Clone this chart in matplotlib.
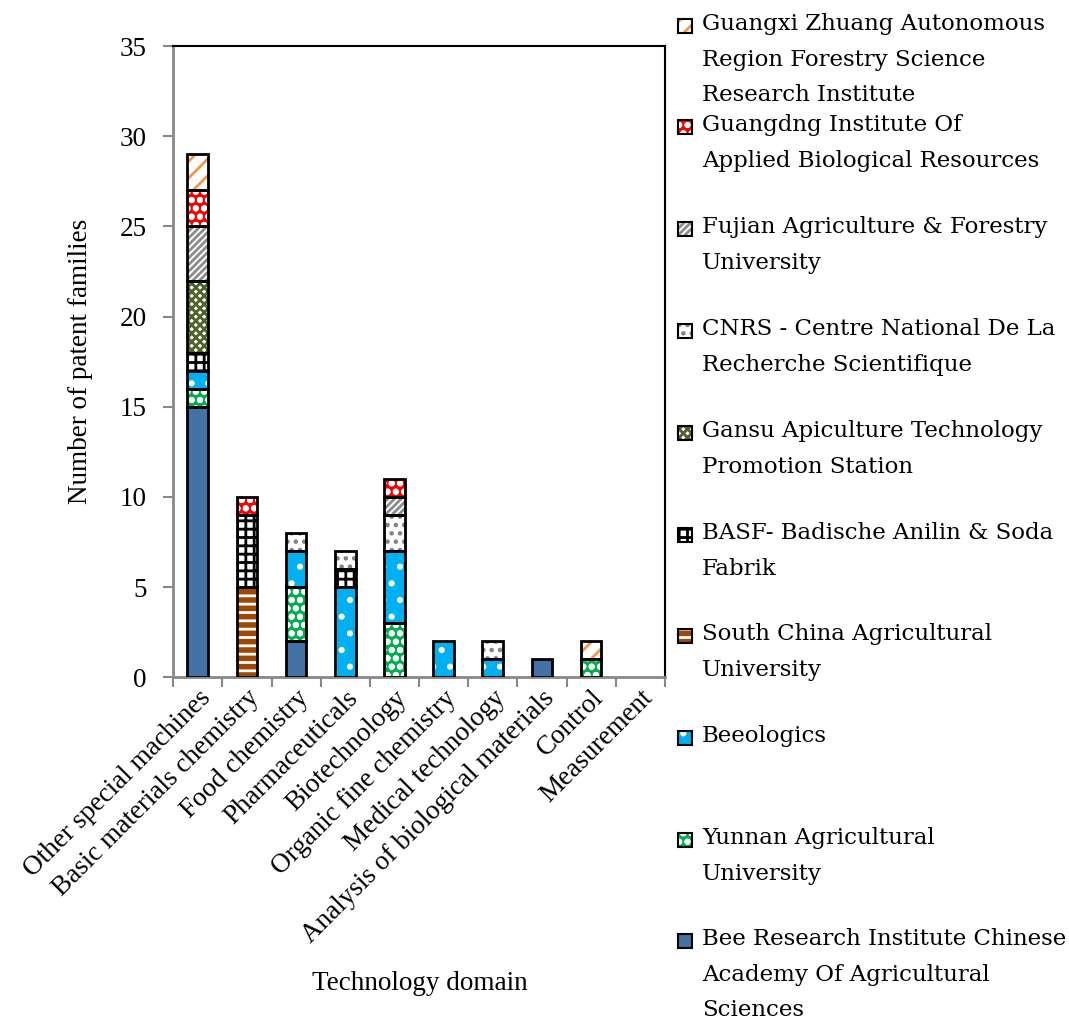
import numpy as np
import matplotlib
matplotlib.use("Agg")
import matplotlib.pyplot as plt
from matplotlib.patches import Rectangle

plt.rcParams['hatch.linewidth'] = 2.0
plt.rcParams['font.family'] = ['Liberation Serif', 'DejaVu Serif']

# technology domains (x axis)
domains = ['Other special machines', 'Basic materials chemistry', 'Food chemistry',
           'Pharmaceuticals', 'Biotechnology', 'Organic fine chemistry',
           'Medical technology', 'Analysis of biological materials', 'Control',
           'Measurement']

# applicants, bottom of stack first
applicants = ['Bee Research Institute Chinese\nAcademy Of Agricultural\nSciences',
              'Yunnan Agricultural\nUniversity',
              'Beeologics',
              'South China Agricultural\nUniversity',
              'BASF- Badische Anilin & Soda\nFabrik',
              'Gansu Apiculture Technology\nPromotion Station',
              'CNRS - Centre National De La\nRecherche Scientifique',
              'Fujian Agriculture & Forestry\nUniversity',
              'Guangdng Institute Of\nApplied Biological Resources',
              'Guangxi Zhuang Autonomous\nRegion Forestry Science\nResearch Institute']

bee_research = [15, 0, 2, 0, 0, 0, 0, 1, 0, 0]
yunnan = [1, 0, 3, 0, 3, 0, 0, 0, 1, 0]
beeologics = [1, 0, 2, 5, 4, 2, 1, 0, 0, 0]
south_china = [0, 5, 0, 0, 0, 0, 0, 0, 0, 0]
basf = [1, 4, 0, 1, 0, 0, 0, 0, 0, 0]
gansu = [4, 0, 0, 0, 0, 0, 0, 0, 0, 0]
cnrs = [0, 0, 1, 1, 2, 0, 1, 0, 0, 0]
fujian = [3, 0, 0, 0, 1, 0, 0, 0, 0, 0]
guangdong = [2, 1, 0, 0, 1, 0, 0, 0, 0, 0]
guangxi = [2, 0, 0, 0, 0, 0, 0, 0, 1, 0]

series = [bee_research, yunnan, beeologics, south_china, basf, gansu, cnrs,
          fujian, guangdong, guangxi]

# (face colour, hatch colour, hatch)
styles = [('#4471A6', '#4471A6', None),
          ('#00B050', 'white', 'oo'),
          ('#00B0F0', 'white', '.'),
          ('#9C4A06', 'white', '--'),
          ('white', 'black', '++'),
          ('white', '#4F6228', 'xxxx'),
          ('white', '#808080', '..'),
          ('white', '#8C8C8C', '/////'),
          ('#FF0000', 'white', 'oo'),
          ('white', '#F79646', '//')]

fig = plt.figure(figsize=(10.69, 10.26), dpi=100)
ax = fig.add_axes([0.162, 0.340, 0.460, 0.615])

x = np.arange(len(domains))
width = 0.42
bottom = np.zeros(len(domains))
for vals, (fc, hc, hatch) in zip(series, styles):
    vals = np.array(vals, dtype=float)
    m = vals > 0
    ax.bar(x[m], vals[m], width, bottom=bottom[m], color=fc, edgecolor=hc,
           hatch=hatch, linewidth=0, zorder=2)
    ax.bar(x[m], vals[m], width, bottom=bottom[m], fill=False, edgecolor='black',
           linewidth=2, zorder=3)
    bottom += vals

ax.set_xlim(-0.5, len(domains) - 0.5)
ax.set_ylim(0, 35)
ax.set_yticks(range(0, 36, 5))
ax.set_xticks(np.arange(-0.5, len(domains), 1.0))
ax.set_xticklabels([])
ax.set_xticks(x, minor=True)
ax.set_xticklabels(domains, minor=True, rotation=45, ha='right',
                   rotation_mode='anchor', fontsize=19.5)
ax.tick_params(axis='x', which='minor', length=0, pad=6)
ax.tick_params(axis='x', which='major', length=7, width=1.5, color='#888888')
ax.tick_params(axis='y', length=7, width=1.5, color='#888888', labelsize=19.5, pad=12)

for s in ['left', 'bottom']:
    ax.spines[s].set_color('#888888')
    ax.spines[s].set_linewidth(2)
for s in ['top', 'right']:
    ax.spines[s].set_color('black')
    ax.spines[s].set_linewidth(1.5)

ax.set_ylabel('Number of patent families', fontsize=19.5, labelpad=19)
fig.text(0.393, 0.041, 'Technology domain', fontsize=19.5, ha='center', va='center')

# legend, top entry first
ys = [26, 127, 229, 331, 433, 535, 636, 738, 840, 941]
for i, (lab, (fc, hc, hatch)) in enumerate(zip(applicants[::-1], styles[::-1])):
    yc = 1 - ys[i] / 1026
    px = 678 / 1069
    pw = 14 / 1069
    ph = 14 / 1026
    fig.patches.append(Rectangle((px, yc - ph / 2), pw, ph, transform=fig.transFigure,
                                 facecolor=fc, edgecolor=hc, hatch=hatch, linewidth=0))
    fig.patches.append(Rectangle((px, yc - ph / 2), pw, ph, transform=fig.transFigure,
                                 fill=False, edgecolor='black', linewidth=1.5))
    fig.text(702 / 1069, yc + 13 / 1026, lab, fontfamily='DejaVu Serif', fontsize=16.5,
             ha='left', va='top', linespacing=1.8)

fig.savefig('out.png', dpi=100)
